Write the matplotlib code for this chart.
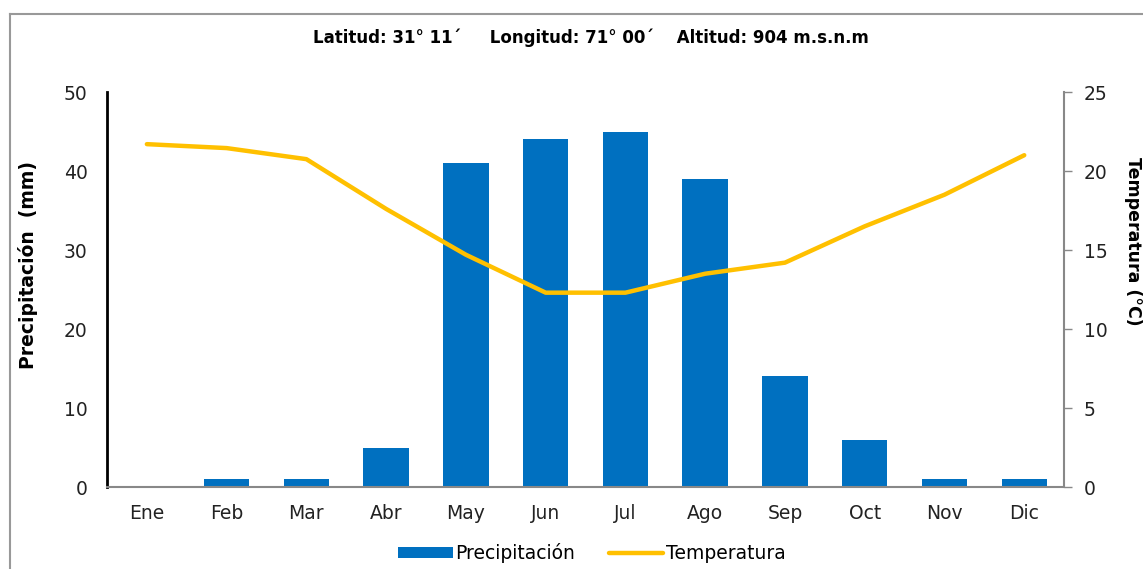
import matplotlib.pyplot as plt
import numpy as np

meses = ['Ene', 'Feb', 'Mar', 'Abr', 'May', 'Jun', 'Jul', 'Ago', 'Sep', 'Oct', 'Nov', 'Dic']
precipitacion = [0, 1, 1, 5, 41, 44, 45, 39, 14, 6, 1, 1]
temperatura = [21.7, 21.45, 20.75, 17.6, 14.7, 12.3, 12.3, 13.5, 14.2, 16.5, 18.5, 21.0]

plt.rcParams['font.family'] = ['DejaVu Sans']

fig = plt.figure(figsize=(11.43, 5.69), dpi=100)
ax = fig.add_axes([0.0936, 0.1441, 0.8374, 0.6942])
x = np.arange(len(meses))

# barras de precipitacion
bars = ax.bar(x, precipitacion, width=0.57, color='#0070C0', label='Precipitación', zorder=2)
ax.set_xlim(-0.5, 11.5)
ax.set_ylim(0, 50)
ax.set_yticks(range(0, 51, 10))
ax.set_xticks(x)
ax.set_xticklabels(meses)
ax.tick_params(axis='y', length=0, pad=14, labelsize=13.5, colors='#222222')
ax.tick_params(axis='x', length=0, pad=12, labelsize=13.5, colors='#222222')
ax.spines['top'].set_visible(False)
ax.spines['right'].set_visible(False)
ax.spines['left'].set_color('black')
ax.spines['left'].set_linewidth(2)
ax.spines['bottom'].set_color('#888888')
ax.spines['bottom'].set_linewidth(1.5)
ax.set_ylabel('Precipitación  (mm)', fontsize=13.5, fontweight='bold', va='center')
ax.yaxis.set_label_coords(-0.0825, 0.562)

# temperatura en eje derecho
ax2 = ax.twinx()
line, = ax2.plot(x, temperatura, color='#FFC000', linewidth=3.2, label='Temperatura',
                 solid_capstyle='round', zorder=3)
ax2.set_ylim(0, 25)
ax2.set_yticks(range(0, 26, 5))
ax2.tick_params(axis='y', length=6, width=1, color='#888888', pad=8, labelsize=13.5, labelcolor='#222222')
for s in ['top', 'left', 'bottom']:
    ax2.spines[s].set_visible(False)
ax2.spines['right'].set_color('#888888')
ax2.spines['right'].set_linewidth(1.5)
ax2.set_ylabel('Temperatura (°C)', fontsize=12.5, fontweight='bold', rotation=-90, va='center')
ax2.yaxis.set_label_coords(1.072, 0.623)

fig.text(0.517, 0.933, 'Latitud: 31° 11´     Longitud: 71° 00´    Altitud: 904 m.s.n.m',
         ha='center', va='center', fontsize=12, fontweight='bold')

fig.legend([bars, line], ['Precipitación', 'Temperatura'], loc='center',
           bbox_to_anchor=(0.518, 0.028), ncol=2, frameon=False, fontsize=13.5,
           handlelength=2.9, handleheight=0.5, handletextpad=0.15, columnspacing=1.8)

# borde del grafico
fig.add_artist(plt.Line2D([0.00875, 0.00875], [0, 0.9754], color='#999999', linewidth=1.5))
fig.add_artist(plt.Line2D([0.00875, 1], [0.9754, 0.9754], color='#999999', linewidth=1.5))

fig.savefig('out.png', dpi=100)
